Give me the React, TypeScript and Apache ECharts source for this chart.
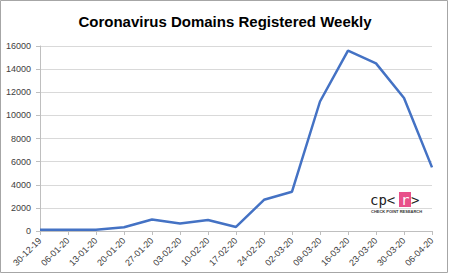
import React, { useEffect, useRef } from "react";
import * as echarts from "echarts";

const categories = [
  "30-12-19", "06-01-20", "13-01-20", "20-01-20", "27-01-20", "03-02-20", "10-02-20",
  "17-02-20", "24-02-20", "02-03-20", "09-03-20", "16-03-20", "23-03-20", "30-03-20", "06-04-20",
];
const domains = [100, 100, 100, 330, 1000, 650, 950, 350, 2700, 3400, 11200, 15600, 14500, 11500, 5500];
const titleText = "Coronavirus Domains Registered Weekly";
const yMax = 16000;
const yInterval = 2000;

export default function App() {
  const ref = useRef<HTMLDivElement>(null);
  useEffect(() => {
    if (!ref.current) return;
    const chart = echarts.init(ref.current, null, { renderer: "svg" });
    const font = "'Liberation Sans', Arial, sans-serif";
    chart.setOption({
      animation: false,
      backgroundColor: "#ffffff",
      title: {
        text: titleText,
        left: "center",
        top: 9,
        textStyle: { fontFamily: font, fontSize: 15, fontWeight: "bold", color: "#000000" },
      },
      grid: { left: 40, right: 18, top: 46, bottom: 43, containLabel: false },
      xAxis: {
        type: "category",
        data: categories,
        boundaryGap: false,
        axisLine: { lineStyle: { color: "#bfbfbf", width: 1 } },
        axisTick: { show: true, alignWithLabel: true, length: 4, lineStyle: { color: "#bfbfbf" } },
        axisLabel: { rotate: 45, fontFamily: font, fontSize: 9, color: "#404040", margin: 8, interval: 0 },
      },
      yAxis: {
        type: "value",
        min: 0,
        max: yMax,
        interval: yInterval,
        axisLine: { show: true, lineStyle: { color: "#bfbfbf", width: 1 } },
        axisTick: { show: true, length: 4, lineStyle: { color: "#bfbfbf" } },
        axisLabel: {
          fontFamily: font,
          fontSize: 9,
          color: "#404040",
          margin: 9,
          formatter: (v: number) => String(v),
        },
        splitLine: { lineStyle: { color: "#d9d9d9", width: 1 } },
      },
      series: [
        {
          type: "line",
          data: domains,
          symbol: "none",
          lineStyle: { color: "#4472c4", width: 2.5 },
        },
      ],
      graphic: [
        {
          type: "rect",
          shape: { x: 0.5, y: 0.5, width: 447, height: 272 },
          style: { fill: "none", stroke: "#a6a6a6", lineWidth: 1 },
          z: 100,
        },
        {
          type: "rect",
          shape: { x: 399, y: 192, width: 12, height: 15 },
          style: { fill: "#e8508a" },
          z: 100,
        },
        {
          type: "text",
          x: 370,
          y: 193,
          style: {
            text: "cp<",
            font: "14px 'DejaVu Sans Mono', monospace",
            fill: "#222222",
          },
          z: 101,
        },
        {
          type: "text",
          x: 401,
          y: 193,
          style: {
            text: "r",
            font: "14px 'DejaVu Sans Mono', monospace",
            fill: "#ffffff",
          },
          z: 101,
        },
        {
          type: "text",
          x: 411,
          y: 193,
          style: {
            text: ">",
            font: "14px 'DejaVu Sans Mono', monospace",
            fill: "#222222",
          },
          z: 101,
        },
        {
          type: "text",
          x: 371,
          y: 209,
          style: {
            text: "CHECK POINT RESEARCH",
            font: "bold 4px 'Liberation Sans', Arial, sans-serif",
            fill: "#333333",
          },
          z: 101,
        },
      ],
    });
    return () => chart.dispose();
  }, []);
  return (
    <div style={{ position: "fixed", left: 0, top: 0, width: 450, height: 274, background: "#fff" }}>
      <div ref={ref} style={{ width: 450, height: 274 }} />
    </div>
  );
}
